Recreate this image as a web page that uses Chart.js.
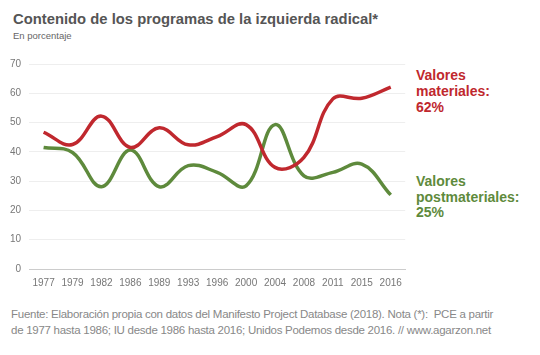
<!DOCTYPE html>
<html><head><meta charset="utf-8">
<script src="https://cdn.jsdelivr.net/npm/chart.js@4/dist/chart.umd.min.js"></script>
<style>
html,body{margin:0;padding:0;background:#fff;width:540px;height:355px;overflow:hidden;font-family:"Liberation Sans",Arial,sans-serif;}
#title{position:absolute;left:13px;top:11px;font-size:14.8px;font-weight:bold;color:#555;}
#sub{position:absolute;left:13px;top:30px;font-size:9.5px;color:#666;}
#wrap{position:absolute;left:0;top:50px;width:410px;height:247px;}
.lab{position:absolute;left:416px;font-size:14px;font-weight:bold;line-height:16px;}
#foot{position:absolute;left:11px;top:306px;font-size:11.5px;color:#888;line-height:16px;letter-spacing:-0.27px;}
</style></head><body>
<div id="title">Contenido de los programas de la izquierda radical*</div>
<div id="sub">En porcentaje</div>
<div id="wrap"><canvas id="c"></canvas></div>
<div class="lab" id="l1" style="top:67px;color:#c0282e">Valores<br>materiales:<br>62%</div>
<div class="lab" id="l2" style="top:174px;color:#5e8a3c;line-height:15.5px">Valores<br>postmateriales:<br>25%</div>
<div id="foot">Fuente: Elaboración propia con datos del Manifesto Project Database (2018). Nota (*):&nbsp; PCE a partir<br>de 1977 hasta 1986; IU desde 1986 hasta 2016; Unidos Podemos desde 2016. // www.agarzon.net</div>
<script>
const years = ["1977","1979","1982","1986","1989","1993","1996","2000","2004","2008","2011","2015","2016"];
const materiales = [46.7,42.5,52.2,41.5,48.2,42.4,45.2,49.3,34.7,38.1,58.1,58.3,62.1];
const postmateriales = [41.5,39.8,28.1,40.6,28.1,35.3,33.0,28.4,49.3,31.8,33.0,35.8,25.3];
const yTicks = [0,10,20,30,40,50,60,70];

new Chart(document.getElementById('c'), {
  type: 'line',
  data: {
    labels: years,
    datasets: [
      {label:'Valores materiales', data: materiales, borderColor:'#c0282e', borderWidth:3.5, pointRadius:0, tension:0.4, fill:false},
      {label:'Valores postmateriales', data: postmateriales, borderColor:'#5e8a3c', borderWidth:3.5, pointRadius:0, tension:0.4, fill:false}
    ]
  },
  options: {
    responsive:true, maintainAspectRatio:false, animation:false,
    layout:{padding:{left:2,right:4,top:5,bottom:0}},
    plugins:{legend:{display:false}, tooltip:{enabled:false}},
    scales:{
      x:{offset:true, grid:{display:false, drawTicks:false},
         border:{display:true,color:'#ccc'},
         ticks:{color:'#777', font:{family:'Liberation Sans', size:10}, padding:8, maxRotation:0, autoSkip:false}},
      y:{min:0,max:70, afterBuildTicks:(ax)=>{ax.ticks=yTicks.map(v=>({value:v}));},
         grid:{color:'#eee', drawTicks:false}, border:{display:false},
         ticks:{color:'#777', font:{family:'Liberation Sans', size:10}, padding:8}}
    }
  }
});
</script>
</body></html>
